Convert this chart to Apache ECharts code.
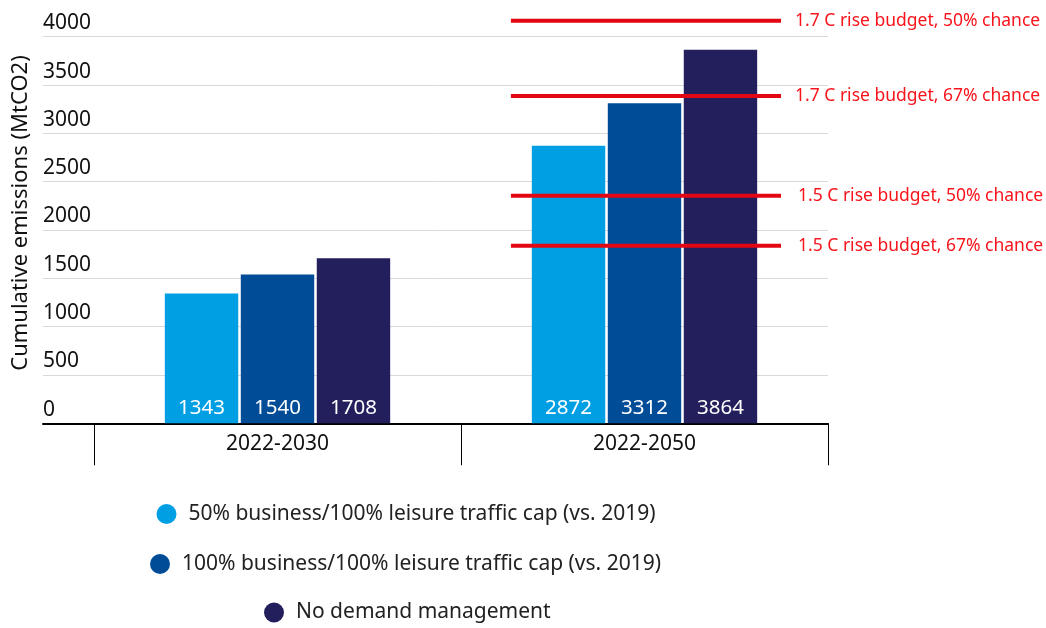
<!DOCTYPE html>
<html>
<head>
<meta charset="utf-8">
<script src="https://cdn.jsdelivr.net/npm/echarts@6/dist/echarts.min.js"></script>
<style>
  html, body { margin: 0; padding: 0; background: #fff; }
  #chart { width: 1046px; height: 628px; }
</style>
</head>
<body>
<div id="chart"></div>
<script>
// --- DATA ---
const periods = ['2022-2030', '2022-2050'];
const scenarioNames = [
    '50% business/100% leisure traffic cap (vs. 2019)',
    '100% business/100% leisure traffic cap (vs. 2019)',
    'No demand management'
];
const capBusiness50 = [1343, 2872];
const capBusiness100 = [1540, 3312];
const noDemandMgmt = [1708, 3864];

const budgetNames = [
    '1.7 C rise budget, 50% chance',
    '1.7 C rise budget, 67% chance',
    '1.5 C rise budget, 50% chance',
    '1.5 C rise budget, 67% chance'
];
const budgetValues = [4166, 3386, 2355, 1838];
// budget lines span part of the 2022-2050 band (category units, 0..2)
const budgetFrom = 1.136;
const budgetTo = 1.872;

const yTicks = [0, 500, 1000, 1500, 2000, 2500, 3000, 3500, 4000];

// --- STYLE ---
const colors = ['#009FE3', '#004C97', '#231F5C'];
const font = 'Noto Sans';
const zeroY = 423.3;
const pxPerUnit = (423.3 - 36.7) / 4000;
const barMax = 4200;

const chart = echarts.init(document.getElementById('chart'), null, { renderer: 'canvas' });

const barSeries = [capBusiness50, capBusiness100, noDemandMgmt].map((vals, i) => ({
    name: scenarioNames[i],
    type: 'bar',
    xAxisIndex: 1,
    yAxisIndex: 1,
    data: vals,
    barWidth: '20%',
    barGap: '3.5%',
    itemStyle: { color: colors[i] },
    label: {
        show: true,
        position: 'insideBottom',
        distance: 5,
        color: '#fff',
        fontFamily: font,
        fontSize: 20.5
    }
}));

const budgetSeries = budgetValues.map((v, i) => ({
    name: budgetNames[i],
    type: 'line',
    xAxisIndex: 2,
    yAxisIndex: 1,
    data: [[budgetFrom, v], [budgetTo, v]],
    symbol: 'none',
    lineStyle: { color: '#E30613', width: 4 },
    endLabel: {
        show: true,
        formatter: budgetNames[i],
        color: '#F8141C',
        fontFamily: font,
        fontSize: 17.5,
        distance: i < 2 ? 14 : 17
    },
    z: 5
}));

const legends = scenarioNames.map((n, i) => ({
    data: [n],
    left: [156.5, 150, 264][i],
    top: [503.5, 553.5, 602][i],
    padding: 0,
    icon: 'circle',
    itemWidth: 20,
    itemHeight: 20,
    selectedMode: false,
    textStyle: { fontFamily: font, fontSize: 21, color: '#222', padding: [0, 0, 0, 7] }
}));

chart.setOption({
    animation: false,
    backgroundColor: '#fff',
    textStyle: { fontFamily: font },
    legend: legends,
    grid: [
        { left: 43, right: 218, top: 36.7, bottom: 628 - zeroY },
        { left: 94, right: 218, top: zeroY - barMax * pxPerUnit, bottom: 628 - zeroY }
    ],
    xAxis: [
        {
            gridIndex: 0, type: 'value', show: true,
            axisLine: { show: true, onZero: false, lineStyle: { color: '#000', width: 2 } },
            axisTick: { show: false }, axisLabel: { show: false }, splitLine: { show: false }
        },
        {
            gridIndex: 1, type: 'category', data: periods,
            axisLine: { show: false },
            axisTick: { show: true, length: 42, lineStyle: { color: '#000', width: 1 } },
            axisLabel: { color: '#111', fontFamily: font, fontSize: 21, margin: 10 }
        },
        { gridIndex: 1, type: 'value', min: 0, max: 2, show: false }
    ],
    yAxis: [
        {
            gridIndex: 0, type: 'value', min: 0, max: 4000, interval: 500,
            name: 'Cumulative emissions (MtCO2)',
            nameLocation: 'middle',
            nameGap: 11,
            nameTextStyle: { fontFamily: font, fontSize: 22, color: '#111', padding: [0, 0, 0, 34] },
            axisLine: { show: false },
            axisTick: { show: false },
            axisLabel: {
                inside: true, margin: 0, verticalAlign: 'bottom', padding: [0, 0, 3, 0],
                color: '#111', fontFamily: font, fontSize: 21,
                formatter: v => yTicks.includes(v) ? String(v) : ''
            },
            splitLine: { lineStyle: { color: '#D9D9D9', width: 1 } }
        },
        { gridIndex: 1, type: 'value', min: 0, max: barMax, show: false }
    ],
    series: [...barSeries, ...budgetSeries]
});

window.addEventListener('resize', () => chart.resize());
</script>
</body>
</html>
